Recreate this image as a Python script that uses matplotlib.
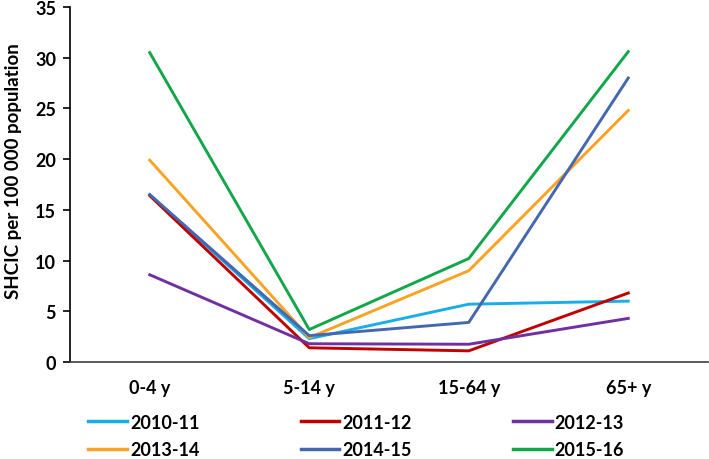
import matplotlib.pyplot as plt
import numpy as np

plt.rcParams['font.family'] = ['Lato', 'DejaVu Sans']

# --- Data ---
age_groups = ["0-4 y", "5-14 y", "15-64 y", "65+ y"]
seasons = ["2010-11", "2011-12", "2012-13", "2013-14", "2014-15", "2015-16"]
v_2010_11 = [16.5, 2.3, 5.7, 6.0]
v_2011_12 = [16.4, 1.4, 1.1, 6.8]
v_2012_13 = [8.6, 1.8, 1.75, 4.3]
v_2013_14 = [19.9, 2.4, 9.0, 24.8]
v_2014_15 = [16.5, 2.6, 3.9, 28.0]
v_2015_16 = [30.5, 3.2, 10.2, 30.6]
series = [v_2010_11, v_2011_12, v_2012_13, v_2013_14, v_2014_15, v_2015_16]
colors = ["#1AAEE8", "#C00000", "#7030A0", "#F8A325", "#4468B0", "#12A64A"]

fig = plt.figure(figsize=(7.09, 4.60), dpi=100)
ax = fig.add_axes([70 / 709, 1 - 363 / 460, 638 / 709, 355 / 460])

x = np.arange(len(age_groups)) + 0.5
lines = []
for name, vals, c in zip(seasons, series, colors):
    ln, = ax.plot(x, vals, color=c, lw=2.1, label=name)
    lines.append(ln)

ax.set_xlim(0, 4)
ax.set_ylim(0, 35)
ax.set_yticks(np.arange(0, 36, 5))
ax.set_xticks(x)
ax.set_xticklabels(age_groups)
ax.tick_params(axis='x', length=0, pad=12)
ax.tick_params(axis='y', direction='out', length=5, width=1.2, pad=5)
for lab in ax.get_xticklabels() + ax.get_yticklabels():
    lab.set_fontsize(13)
    lab.set_fontweight('bold')

ax.spines['top'].set_visible(False)
ax.spines['right'].set_visible(False)
ax.spines['left'].set_linewidth(1.2)
ax.spines['bottom'].set_linewidth(1.2)
ax.spines['bottom'].set_color('#404040')
ax.set_ylabel("SHCIC per 100 000 population", fontsize=13.5, fontweight='bold')
ax.yaxis.set_label_coords((22 - 70) / 638, (363 - 171) / 355)

# legend filled row by row (matplotlib fills by column)
order = [0, 3, 1, 4, 2, 5]
leg = fig.legend([lines[i] for i in order], [seasons[i] for i in order],
                 loc='center left', bbox_to_anchor=(88 / 709, 1 - 437 / 460), ncol=3,
                 frameon=False, borderpad=0, borderaxespad=0,
                 handlelength=2.15, handletextpad=0.17, columnspacing=5.6, labelspacing=0.6,
                 prop={'size': 13, 'weight': 'bold'})
for h in leg.get_lines():
    h.set_linewidth(2.5)

fig.savefig("out.png", dpi=100)
